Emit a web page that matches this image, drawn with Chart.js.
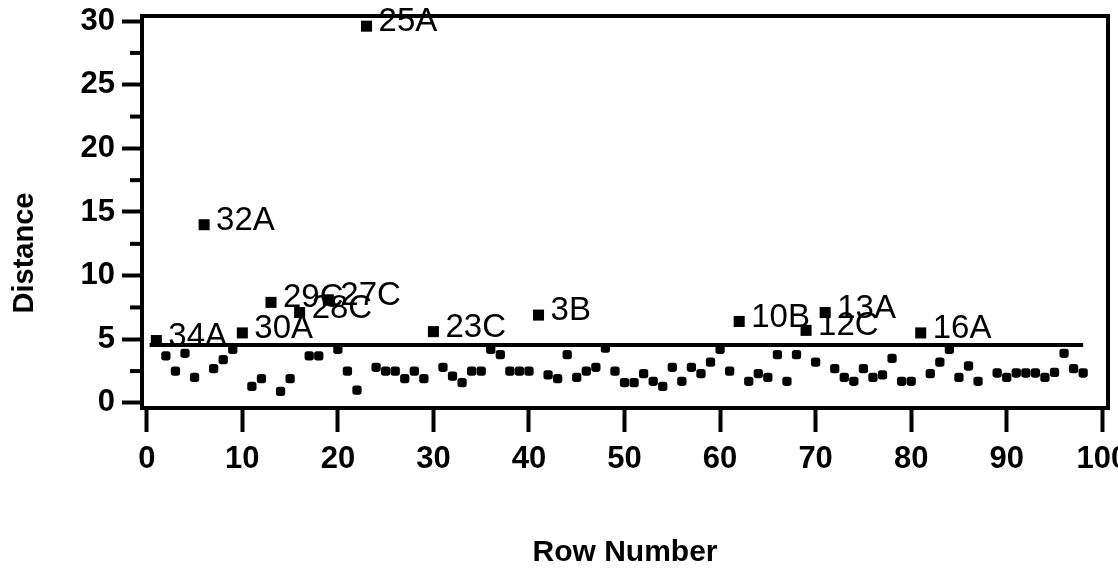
<!DOCTYPE html>
<html>
<head>
<meta charset="utf-8">
<title>Distance by Row Number</title>
<script src="https://cdn.jsdelivr.net/npm/chart.js@4.4.1/dist/chart.umd.min.js"></script>
<style>
    html, body { margin: 0; padding: 0; background: #fff; overflow: hidden; }
    #wrap { width: 1118px; height: 573px; position: relative; }
</style>
</head>
<body>
<div id="wrap"><canvas id="distanceChart"></canvas></div>
<script>
// Row numbers and the distance read for each row
const rowNumber = [
    1, 2, 3, 4, 5, 6, 7, 8, 9, 10, 11, 12, 13, 14, 15, 16, 17, 18, 19, 20,
    21, 22, 23, 24, 25, 26, 27, 28, 29, 30, 31, 32, 33, 34, 35, 36, 37, 38, 39, 40,
    41, 42, 43, 44, 45, 46, 47, 48, 49, 50, 51, 52, 53, 54, 55, 56, 57, 58, 59, 60,
    61, 62, 63, 64, 65, 66, 67, 68, 69, 70, 71, 72, 73, 74, 75, 76, 77, 78, 79, 80,
    81, 82, 83, 84, 85, 86, 87, 89, 90, 91, 92, 93, 94, 95, 96, 97, 98
];
const distance = [
    4.9, 3.7, 2.5, 3.9, 2.0, 14.0, 2.7, 3.4, 4.2, 5.5, 1.3, 1.9, 7.9, 0.9, 1.9, 7.1, 3.7, 3.7, 8.1, 4.2,
    2.5, 1.0, 29.6, 2.8, 2.5, 2.5, 1.9, 2.5, 1.9, 5.6, 2.8, 2.1, 1.6, 2.5, 2.5, 4.2, 3.8, 2.5, 2.5, 2.5,
    6.9, 2.2, 1.9, 3.8, 2.0, 2.5, 2.8, 4.3, 2.5, 1.6, 1.6, 2.3, 1.7, 1.3, 2.8, 1.7, 2.8, 2.3, 3.2, 4.2,
    2.5, 6.4, 1.7, 2.3, 2.0, 3.8, 1.7, 3.8, 5.7, 3.2, 7.1, 2.7, 2.0, 1.7, 2.7, 2.0, 2.2, 3.5, 1.7, 1.7,
    5.5, 2.3, 3.2, 4.2, 2.0, 2.9, 1.7, 2.35, 2.0, 2.35, 2.35, 2.35, 2.0, 2.4, 3.9, 2.7, 2.35
];

// Rows flagged with a case name
const labeledRows = [1, 6, 10, 13, 16, 19, 23, 30, 41, 62, 69, 71, 81];
const labeledNames = ['34A', '32A', '30A', '29C', '28C', '27C', '25A', '23C', '3B', '10B', '12C', '13A', '16A'];

// Cut-off line
const cutoffRows = [0.3, 98];
const cutoffValue = 4.55;

// Axis ticks
const xTicks = [0, 10, 20, 30, 40, 50, 60, 70, 80, 90, 100];
const yTicks = [0, 5, 10, 15, 20, 25, 30];
const yMinorTicks = [2.5, 7.5, 12.5, 17.5, 22.5, 27.5];

const FONT = '"Liberation Sans", Arial, Helvetica, sans-serif';
Chart.defaults.font.family = FONT;
Chart.defaults.color = '#000';

const plainPoints = [];
const flaggedPoints = [];
rowNumber.forEach((row, i) => {
    const idx = labeledRows.indexOf(row);
    if (idx >= 0) {
        flaggedPoints.push({ x: row, y: distance[i], name: labeledNames[idx] });
    } else {
        plainPoints.push({ x: row, y: distance[i] });
    }
});

// frame, minor ticks, point names and the y title
const decorations = {
    id: 'decorations',
    afterDatasetsDraw(chart) {
        const { ctx, chartArea: a, scales } = chart;
        ctx.save();

        // point names
        const meta = chart.getDatasetMeta(1);
        ctx.font = '33px ' + FONT;
        ctx.fillStyle = '#000';
        ctx.textAlign = 'left';
        ctx.textBaseline = 'middle';
        meta.data.forEach((pt, i) => {
            ctx.fillText(flaggedPoints[i].name, pt.x + 12, pt.y - 4);
        });

        // box round the plot
        ctx.strokeStyle = '#000';
        ctx.lineWidth = 4;
        ctx.strokeRect(a.left, a.top, a.right - a.left, a.bottom - a.top);

        // minor y ticks
        yMinorTicks.forEach(v => {
            const y = scales.y.getPixelForValue(v);
            ctx.beginPath();
            ctx.moveTo(a.left - 12, y);
            ctx.lineTo(a.left, y);
            ctx.stroke();
        });

        // y title
        ctx.translate(25, 253);
        ctx.rotate(-Math.PI / 2);
        ctx.font = 'bold 29px ' + FONT;
        ctx.textAlign = 'center';
        ctx.textBaseline = 'middle';
        ctx.fillText('Distance', 0, 0);
        ctx.restore();
    }
};

new Chart(document.getElementById('distanceChart'), {
    type: 'scatter',
    data: {
        datasets: [
            {
                label: 'Rows',
                data: plainPoints,
                backgroundColor: '#000',
                borderColor: '#000',
                borderWidth: 0,
                pointStyle: 'rectRounded',
                pointRadius: 5.4
            },
            {
                label: 'Flagged',
                data: flaggedPoints,
                backgroundColor: '#000',
                borderColor: '#000',
                borderWidth: 0,
                pointStyle: 'rect',
                pointRadius: 7.8
            },
            {
                type: 'line',
                label: 'Cut-off',
                data: cutoffRows.map(x => ({ x: x, y: cutoffValue })),
                borderColor: '#000',
                borderWidth: 4,
                pointRadius: 0,
                fill: false
            }
        ]
    },
    options: {
        responsive: true,
        maintainAspectRatio: false,
        animation: false,
        layout: { padding: { top: 16, right: 10, left: 0, bottom: 0 } },
        plugins: {
            legend: { display: false },
            tooltip: { enabled: false }
        },
        scales: {
            x: {
                type: 'linear',
                min: -0.5,
                max: 100.6,
                afterBuildTicks: scale => { scale.ticks = xTicks.map(v => ({ value: v })); },
                afterFit: scale => {
                    scale.height = 165;
                    scale.paddingLeft = 0;
                    scale.paddingRight = 0;
                },
                grid: { drawOnChartArea: false, tickLength: 24, tickWidth: 4, color: '#000' },
                border: { display: false },
                ticks: {
                    font: { size: 31, weight: 'bold' },
                    color: '#000',
                    padding: 9,
                    maxRotation: 0,
                    autoSkip: false
                },
                title: {
                    display: true,
                    text: 'Row Number',
                    font: { size: 30, weight: 'bold' },
                    color: '#000',
                    padding: { top: 0, bottom: 2 }
                }
            },
            y: {
                min: -0.4,
                max: 30.4,
                afterBuildTicks: scale => { scale.ticks = yTicks.map(v => ({ value: v })); },
                afterFit: scale => {
                    scale.width = 142;
                    scale.paddingTop = 0;
                    scale.paddingBottom = 0;
                },
                grid: { drawOnChartArea: false, tickLength: 20, tickWidth: 4, color: '#000' },
                border: { display: false },
                ticks: {
                    font: { size: 31, weight: 'bold' },
                    color: '#000',
                    padding: 7
                }
            }
        }
    },
    plugins: [decorations]
});
</script>
</body>
</html>
